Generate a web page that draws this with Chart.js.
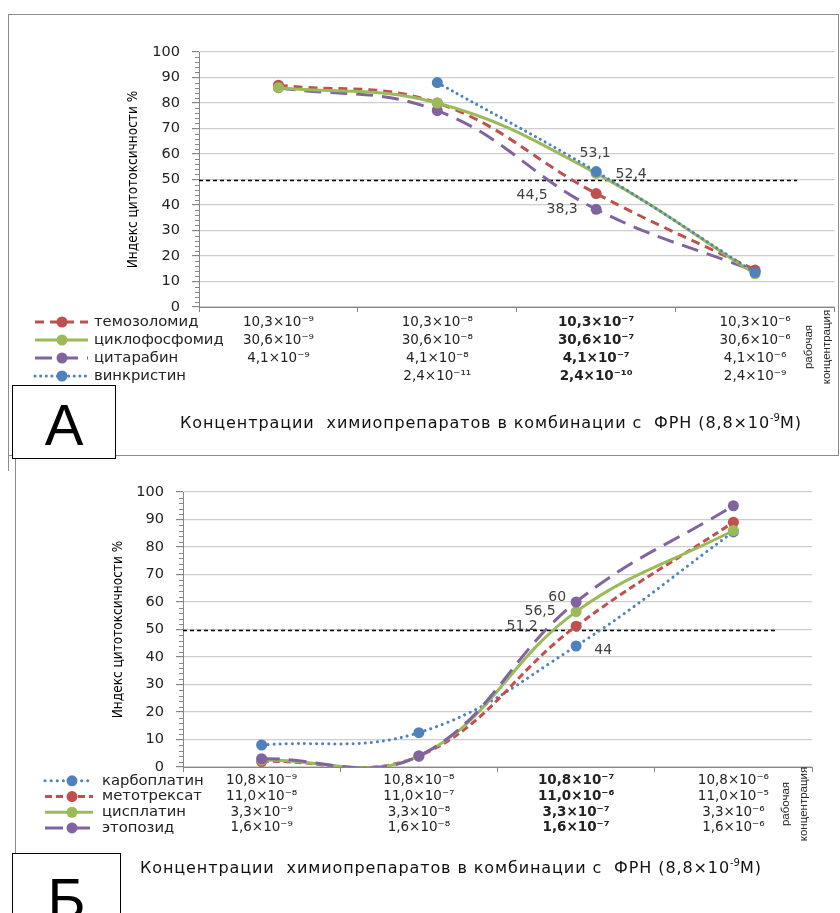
<!DOCTYPE html>
<html>
<head>
<meta charset="utf-8">
<script src="https://cdn.jsdelivr.net/npm/chart.js@4.4.1/dist/chart.umd.min.js"></script>
<style>
  body { margin: 0; width: 840px; height: 913px; position: relative; overflow: hidden; background: #fff; font-family: "DejaVu Sans", sans-serif; }
  canvas { position: absolute; left: 0; }
  #chartA { top: 0; }
  #chartB { top: 460px; }
  .frame { position: absolute; border: 1px solid #8c8c8c; }
  .vline { position: absolute; border-left: 1px solid #8c8c8c; }
  .tag { position: absolute; border: 1.5px solid #000; background: #fff; font-family: "Liberation Sans", sans-serif; font-size: 58px; line-height: 1; text-align: center; z-index: 3; }
  .cap { position: absolute; white-space: pre; font-size: 16px; letter-spacing: 0.9px; color: #111; z-index: 2; }
  .cap sup { font-size: 10px; vertical-align: 7px; line-height: 0; letter-spacing: 0; }
  .work { position: absolute; font-family: "Liberation Sans", sans-serif; font-size: 11.5px; line-height: 18px; color: #222; text-align: center; transform: rotate(-90deg); transform-origin: center center; white-space: pre; z-index: 2; }
</style>
</head>
<body>
<div class="frame" style="left:8px;top:14px;width:829px;height:440px;"></div>
<div class="vline" style="left:8px;top:455px;height:16px;"></div>
<div class="vline" style="left:15px;top:455px;height:398px;"></div>

<canvas id="chartA" width="840" height="460"></canvas>
<canvas id="chartB" width="840" height="453"></canvas>

<div class="tag" style="left:12px;top:385px;width:104px;height:74px;padding-top:10px;box-sizing:border-box;">А</div>
<div class="tag" style="left:12px;top:853px;width:109px;height:80px;padding-top:16px;box-sizing:border-box;">Б</div>

<div class="cap" style="left:180px;top:413px;">Концентрации  химиопрепаратов в комбинации с  ФРН (8,8×10<sup>-9</sup>М)</div>
<div class="cap" style="left:140px;top:858px;">Концентрации  химиопрепаратов в комбинации с  ФРН (8,8×10<sup>-9</sup>М)</div>

<div class="work" style="left:777px;top:329px;width:80px;height:36px;">рабочая
концентрация</div>
<div class="work" style="left:754px;top:786px;width:80px;height:36px;">рабочая
концентрация</div>

<script>
Chart.defaults.font.family = '"DejaVu Sans", sans-serif';
Chart.defaults.color = '#222';

// ---------- panel A data ----------
const namesA = ['темозоломид', 'циклофосфомид', 'цитарабин', 'винкристин'];
const temozolomide = [87, 80, 44.5, 14.5];
const cyclophosphamide = [86, 80, 52.4, 13];
const cytarabine = [86, 77, 38.3, 14];
const vincristine = [null, 88, 53.1, 13.5];
const ticksA = [
  ['10,3×10⁻⁹', '30,6×10⁻⁹', '4,1×10⁻⁹', ''],
  ['10,3×10⁻⁸', '30,6×10⁻⁸', '4,1×10⁻⁸', '2,4×10⁻¹¹'],
  ['10,3×10⁻⁷', '30,6×10⁻⁷', '4,1×10⁻⁷', '2,4×10⁻¹⁰'],
  ['10,3×10⁻⁶', '30,6×10⁻⁶', '4,1×10⁻⁶', '2,4×10⁻⁹']
];

// ---------- panel B data ----------
const namesB = ['карбоплатин', 'метотрексат', 'цисплатин', 'этопозид'];
const carboplatin = [8, 12.5, 44, 85.5];
const methotrexate = [2, 4, 51.2, 89];
const cisplatin = [2.5, 4, 56.5, 86];
const etoposide = [3, 4, 60, 95];
const ticksB = [
  ['10,8×10⁻⁹', '11,0×10⁻⁸', '3,3×10⁻⁹', '1,6×10⁻⁹'],
  ['10,8×10⁻⁸', '11,0×10⁻⁷', '3,3×10⁻⁸', '1,6×10⁻⁸'],
  ['10,8×10⁻⁷', '11,0×10⁻⁶', '3,3×10⁻⁷', '1,6×10⁻⁷'],
  ['10,8×10⁻⁶', '11,0×10⁻⁵', '3,3×10⁻⁶', '1,6×10⁻⁶']
];

const THRESHOLD = 50;

const RED = '#C0504D', GREEN = '#9BBB59', PURPLE = '#8064A2', BLUE = '#4F81BD';

function line(label, data, color, dash, cap, order) {
  return {
    label, data, order,
    borderColor: color, backgroundColor: color,
    pointBackgroundColor: color, pointBorderColor: color,
    pointRadius: 5.5, pointHoverRadius: 5.5, pointBorderWidth: 0,
    borderWidth: 3, borderDash: dash, borderCapStyle: cap || 'butt',
    tension: 0.4, fill: false, spanGaps: false, clip: 0
  };
}

const fmt = v => String(v).replace('.', ',');

/* ======================================
        EXTRA DRAWING (legend, threshold, labels)
========================================*/
const decor = {
  id: 'decor',
  beforeDatasetsDraw(chart, args, o) {
    const {ctx, chartArea} = chart;
    const x = chart.scales.x, y = chart.scales.y;
    const yy = Math.round(y.getPixelForValue(o.threshold)) + 0.5;
    const endX = x.getPixelForValue(x.max) + o.extend;
    ctx.save();
    ctx.strokeStyle = '#000';
    ctx.lineWidth = 1.3;
    ctx.setLineDash([4, 3]);
    ctx.beginPath();
    ctx.moveTo(chartArea.left, yy);
    ctx.lineTo(endX, yy);
    ctx.stroke();
    ctx.restore();
  },
  afterDatasetsDraw(chart, args, o) {
    const {ctx} = chart;
    ctx.save();
    ctx.font = '14px "DejaVu Sans"';
    ctx.fillStyle = '#404040';
    ctx.textAlign = 'center';
    ctx.textBaseline = 'middle';
    o.labels.forEach(([d, i, dx, dy]) => {
      const pt = chart.getDatasetMeta(d).data[i];
      ctx.fillText(fmt(chart.data.datasets[d].data[i]), pt.x + dx, pt.y + dy);
    });
    ctx.restore();
  },
  afterDraw(chart, args, o) {
    const {ctx, chartArea} = chart;
    const x = chart.scales.x, y = chart.scales.y;
    ctx.save();
    // minor ticks on the value axis
    ctx.strokeStyle = '#868686';
    ctx.lineWidth = 1;
    for (let v = y.min; v <= y.max; v += 2) {
      if (v % 10 === 0) continue;
      const py = Math.round(y.getPixelForValue(v)) + 0.5;
      ctx.beginPath();
      ctx.moveTo(chartArea.left - 4, py);
      ctx.lineTo(chartArea.left, py);
      ctx.stroke();
    }
    // legend keys in the data table rows
    const lg = o.legend;
    chart.data.datasets.forEach((ds, i) => {
      const ry = x.top + 6 + lg.lh / 2 + i * lg.lh;
      ctx.strokeStyle = ds.borderColor;
      ctx.lineWidth = ds.borderWidth;
      ctx.lineCap = ds.borderCapStyle;
      ctx.setLineDash(ds.borderDash || []);
      ctx.beginPath();
      ctx.moveTo(lg.x0, ry);
      ctx.lineTo(lg.x1, ry);
      ctx.stroke();
      ctx.setLineDash([]);
      ctx.fillStyle = ds.borderColor;
      ctx.beginPath();
      ctx.arc(lg.mx, ry, 5.5, 0, Math.PI * 2);
      ctx.fill();
      ctx.fillStyle = '#222';
      ctx.font = lg.font;
      ctx.textAlign = 'left';
      ctx.textBaseline = 'middle';
      ctx.fillText(ds.label, lg.tx, ry);
    });
    ctx.restore();
  }
};

function makeOptions(cfg) {
  return {
    responsive: false,
    animation: false,
    events: [],
    layout: { padding: cfg.padding },
    elements: { line: { capBezierPoints: false } },
    plugins: {
      legend: { display: false },
      tooltip: { enabled: false },
      decor: { threshold: THRESHOLD, extend: cfg.extend, labels: cfg.labels, legend: cfg.legend }
    },
    scales: {
      x: {
        type: 'category',
        offset: true,
        afterFit: s => { s.height = cfg.xHeight; },
        border: { display: true, color: '#868686', width: 1 },
        grid: { display: true, drawOnChartArea: false, drawTicks: true, tickLength: 5, offset: true, tickColor: '#868686' },
        ticks: {
          autoSkip: false, maxRotation: 0, padding: 1, color: '#222',
          font: c => ({ size: 13.5, lineHeight: cfg.lh + 'px', weight: c.index === 2 ? 'bold' : 'normal' })
        }
      },
      y: {
        min: 0, max: 100,
        afterFit: s => { s.width = cfg.yWidth; },
        border: { display: true, color: '#868686', width: 1 },
        grid: { color: '#cdcdcd', lineWidth: 1.2, tickLength: 7, tickColor: '#868686' },
        ticks: { stepSize: 10, padding: 12, color: '#222', font: { size: 14.5 } },
        title: {
          display: true, text: 'Индекс цитотоксичности %', color: '#000', padding: 0,
          font: { family: '"DejaVu Sans Condensed", "DejaVu Sans"', size: 13.5 }
        }
      }
    }
  };
}

new Chart(document.getElementById('chartA'), {
  type: 'line',
  data: {
    labels: ticksA,
    datasets: [
      line(namesA[0], temozolomide, RED, [9, 6], 'butt', 2),
      line(namesA[1], cyclophosphamide, GREEN, [], 'butt', 1),
      line(namesA[2], cytarabine, PURPLE, [17, 9], 'butt', 3),
      line(namesA[3], vincristine, BLUE, [0.1, 5.5], 'round', 0)
    ]
  },
  options: makeOptions({
    padding: { left: 125, right: 1, top: 52, bottom: 68 },
    yWidth: 74, xHeight: 85, lh: 18, extend: 42,
    labels: [[3, 2, -1, -18], [1, 2, 35, 1], [0, 2, -64, 2], [2, 2, -34, 0]],
    legend: { x0: 35, x1: 88, mx: 62, tx: 94, lh: 18, font: '14.8px "DejaVu Sans"' }
  }),
  plugins: [decor]
});

new Chart(document.getElementById('chartB'), {
  type: 'line',
  data: {
    labels: ticksB,
    datasets: [
      line(namesB[0], carboplatin, BLUE, [0.1, 6], 'round', 3),
      line(namesB[1], methotrexate, RED, [7, 4], 'butt', 2),
      line(namesB[2], cisplatin, GREEN, [], 'butt', 1),
      line(namesB[3], etoposide, PURPLE, [18, 9], 'butt', 0)
    ]
  },
  options: makeOptions({
    padding: { left: 110, right: 28, top: 32, bottom: 76 },
    yWidth: 73, xHeight: 70, lh: 15.7, extend: 44,
    labels: [[3, 2, -19, -5], [2, 2, -36, 0], [1, 2, -54, 0], [0, 2, 27, 4]],
    legend: { x0: 45, x1: 93, mx: 72, tx: 102, lh: 15.7, font: '14.8px "DejaVu Sans"' }
  }),
  plugins: [decor]
});
</script>
</body>
</html>
